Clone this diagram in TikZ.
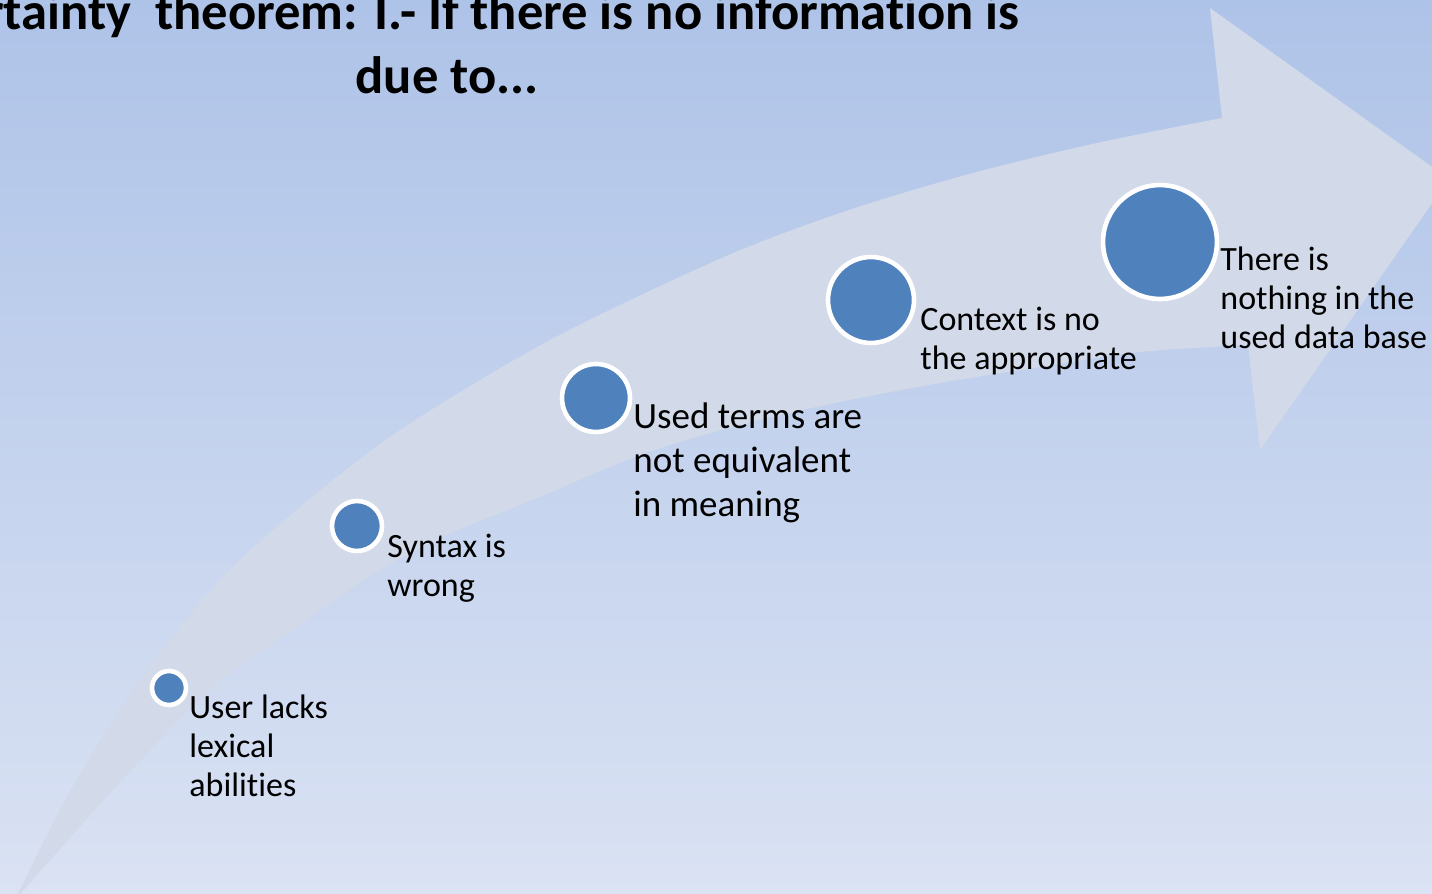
\documentclass[tikz,border=0pt]{standalone}
\usepackage{fontspec}
\setmainfont[Ligatures=NoCommon]{Carlito}
\definecolor{bgtop}{RGB}{174,195,232}
\definecolor{bgbot}{RGB}{218,226,243}
\definecolor{arrowfill}{RGB}{210,217,232}
\definecolor{dotblue}{RGB}{79,129,189}
\begin{document}
\begin{tikzpicture}[x=0.5pt,y=-0.5pt,
  dot/.style={circle,fill=dotblue,draw=white,line width=2.3pt,inner sep=0pt},
  lbl/.style={anchor=base west,align=left,inner sep=0pt,text=black,
    font=\fontsize{17}{19.5}\selectfont},
  lblbig/.style={lbl,font=\fontsize{18.5}{22}\selectfont},
  ttl/.style={inner sep=0pt,text=black,font=\bfseries\fontsize{26.3}{31.5}\selectfont}]
\useasboundingbox (0,0) rectangle (1432,894);
\clip (0,0) rectangle (1432,894);
\shade[top color=bgtop,bottom color=bgbot] (0,0) rectangle (1432,894);
% big curved arrow
\fill[arrowfill]
  plot[smooth,tension=0.5] coordinates {(15,900) (67,797) (133,690) (217,583) (300,507) (400,430) (550,340) (724,257) (849,210) (973,173) (1097,143) (1222,118)}
  -- (1210,8) -- (1449,179) -- (1260,450) -- (1248,345)
  -- plot[smooth,tension=0.5] coordinates {(1248,345) (1140,352) (1040,367) (940,383) (840,402) (740,425) (640,455) (540,497) (440,538) (367,578) (300,625) (217,683) (150,750) (83,823) (15,900)}
  -- cycle;
% dots
\node[dot,minimum size=17pt] (c1) at (169,688) {};
\node[dot,minimum size=25pt] (c2) at (357,526) {};
\node[dot,minimum size=34pt] (c3) at (596,398) {};
\node[dot,minimum size=43pt] (c4) at (871,300) {};
\node[dot,minimum size=57pt] (c5) at (1160,242) {};
% labels (anchored at the baseline of their last line)
\node[lbl] (t1) at (189,796) {User lacks\\lexical\\abilities};
\node[lbl] (t2) at (387,596) {Syntax is\\wrong};
\node[lblbig] (t3) at (633,516) {Used terms are\\not equivalent\\in meaning};
\node[lbl] (t4) at (920,369) {Context is no\\the appropriate};
\node[lbl] (t5) at (1220,348) {There is\\nothing in the\\used data base};
% title
\node[ttl,anchor=base east] (title1) at (1020,30) {rtainty\ \ theorem: I.- If there is no information is};
\node[ttl,anchor=base] (title2) at (447,93) {due to...};
\end{tikzpicture}
\end{document}
